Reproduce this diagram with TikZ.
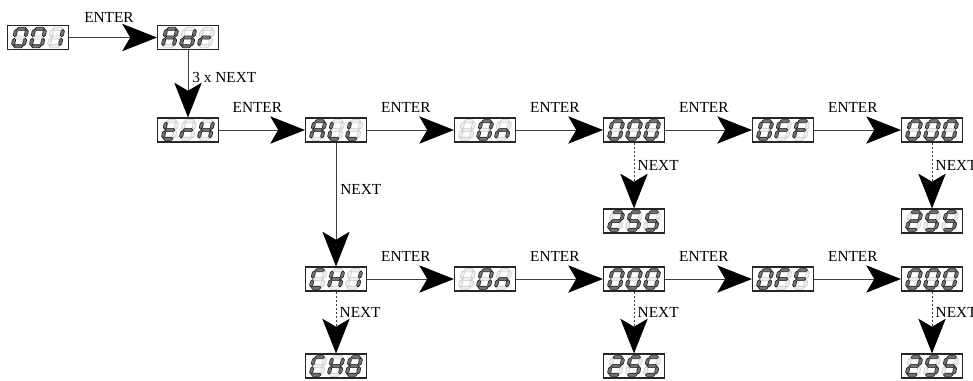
\documentclass[tikz,border=0pt]{standalone}
\usepackage{fontspec}
\setmainfont{Liberation Serif}
\usetikzlibrary{arrows.meta}
\tikzset{
  seg1/.style={draw=black!90, fill=black!55, line width=0.45pt, line join=round},
  seg0/.style={draw=black!22, fill=black!6, line width=0.45pt, line join=round},
  disp/.style={draw=black!85, line width=0.9pt, minimum width=45.75pt, minimum height=18pt, inner sep=0pt, fill=white},
  conn/.style={draw=black!75, line width=0.6pt, -{Stealth[length=26pt,width=20.5pt,inset=6pt,black]}},
  dotconn/.style={conn, dash pattern=on 1.5pt off 1.5pt},
  lbl/.style={font=\fontsize{11.5}{13}\selectfont, inner sep=0pt},
}
% segment patterns a b c d e f g
\def\dgZero{1111110}
\def\dgOne{0110000}
\def\dgTwo{1101101}
\def\dgFive{1011011}
\def\dgEight{1111111}
\def\dgA{1110111}
\def\dgd{0111101}
\def\dgr{0000101}
\def\dgt{0001111}
\def\dgH{0110111}
\def\dgL{0001110}
\def\dgn{0010101}
\def\dgC{1001110}
\def\dgF{1000111}
\def\dgBlank{0000000}
\newcommand\sghseg[4]{\path[#4] (#1,#3) -- (#1+1.6,#3-1.6) -- (#2-1.6,#3-1.6) -- (#2,#3) -- (#2-1.6,#3+1.6) -- (#1+1.6,#3+1.6) -- cycle;}
\newcommand\sgvseg[4]{\path[#4] (#1,#2) -- (#1+1.6,#2+1.6) -- (#1+1.6,#3-1.6) -- (#1,#3) -- (#1-1.6,#3-1.6) -- (#1-1.6,#2+1.6) -- cycle;}
\newcommand\sevdigit[7]{%
  \sghseg{-4.8}{4.8}{-8.8}{seg#1}%
  \sgvseg{5.5}{-8.1}{-0.7}{seg#2}%
  \sgvseg{5.5}{0.7}{8.1}{seg#3}%
  \sghseg{-4.8}{4.8}{8.8}{seg#4}%
  \sgvseg{-5.5}{0.7}{8.1}{seg#5}%
  \sgvseg{-5.5}{-8.1}{-0.7}{seg#6}%
  \sghseg{-4.8}{4.8}{0}{seg#7}}
\newcommand\onedigit[3]{%
  \begin{scope}[shift={(#1.center)}, shift={(#2,0)}, xslant=0.2]
    \expandafter\sevdigit#3
  \end{scope}}
\newcommand\display[5]{%
  \node[disp] (#1) at #2 {};
  \onedigit{#1}{-18}{#3}\onedigit{#1}{0}{#4}\onedigit{#1}{18}{#5}}
\begin{document}
\begin{tikzpicture}[x=0.75pt,y=-0.75pt]
\useasboundingbox (0,0) rectangle (973,380);
\fill[white] (0,0) rectangle (973,380);
% row 1
\display{d001}{(38,37.5)}{\dgZero}{\dgZero}{\dgOne}
\display{dAdr}{(188,37.5)}{\dgA}{\dgd}{\dgr}
% row 2
\display{dtrH}{(188,130)}{\dgt}{\dgr}{\dgH}
\display{dALL}{(336,130)}{\dgA}{\dgL}{\dgL}
\display{d0nA}{(485,130)}{\dgBlank}{\dgZero}{\dgn}
\display{d000A}{(634,130)}{\dgZero}{\dgZero}{\dgZero}
\display{d0FFA}{(783,130)}{\dgZero}{\dgF}{\dgF}
\display{d000rA}{(932,130)}{\dgZero}{\dgZero}{\dgZero}
\display{d255A}{(634,221)}{\dgTwo}{\dgFive}{\dgFive}
\display{d255rA}{(932,221)}{\dgTwo}{\dgFive}{\dgFive}
% row 3
\display{dCH1}{(336,279)}{\dgC}{\dgH}{\dgOne}
\display{d0nB}{(485,279)}{\dgBlank}{\dgZero}{\dgn}
\display{d000B}{(634,279)}{\dgZero}{\dgZero}{\dgZero}
\display{d0FFB}{(783,279)}{\dgZero}{\dgF}{\dgF}
\display{d000rB}{(932,279)}{\dgZero}{\dgZero}{\dgZero}
\display{dCH8}{(336,366)}{\dgC}{\dgH}{\dgEight}
\display{d255B}{(634,366)}{\dgTwo}{\dgFive}{\dgFive}
\display{d255rB}{(932,366)}{\dgTwo}{\dgFive}{\dgFive}
% connectors
\draw[conn] (d001) -- (dAdr) node[lbl, midway, yshift=15pt, xshift=-3pt] {ENTER};
\draw[conn] (dAdr) -- (dtrH) node[lbl, pos=0.41, anchor=west, xshift=3pt] {3 x NEXT};
\draw[conn] (dtrH) -- (dALL) node[lbl, midway, yshift=17pt, xshift=-3.5pt] {ENTER};
\draw[conn] (dALL) -- (d0nA) node[lbl, midway, yshift=17pt, xshift=-3.5pt] {ENTER};
\draw[conn] (d0nA) -- (d000A) node[lbl, midway, yshift=17pt, xshift=-3.5pt] {ENTER};
\draw[conn] (d000A) -- (d0FFA) node[lbl, midway, yshift=17pt, xshift=-3.5pt] {ENTER};
\draw[conn] (d0FFA) -- (d000rA) node[lbl, midway, yshift=17pt, xshift=-3.5pt] {ENTER};
\draw[conn] (dALL) -- (dCH1) node[lbl, pos=0.38, anchor=west, xshift=3pt] {NEXT};
\draw[dotconn] (d000A) -- (d255A) node[lbl, pos=0.34, anchor=west, xshift=2.5pt] {NEXT};
\draw[dotconn] (d000rA) -- (d255rA) node[lbl, pos=0.34, anchor=west, xshift=2.5pt] {NEXT};
\draw[conn] (dCH1) -- (d0nB) node[lbl, midway, yshift=17pt, xshift=-3.5pt] {ENTER};
\draw[conn] (d0nB) -- (d000B) node[lbl, midway, yshift=17pt, xshift=-3.5pt] {ENTER};
\draw[conn] (d000B) -- (d0FFB) node[lbl, midway, yshift=17pt, xshift=-3.5pt] {ENTER};
\draw[conn] (d0FFB) -- (d000rB) node[lbl, midway, yshift=17pt, xshift=-3.5pt] {ENTER};
\draw[dotconn] (dCH1) -- (dCH8) node[lbl, pos=0.34, anchor=west, xshift=2.5pt] {NEXT};
\draw[dotconn] (d000B) -- (d255B) node[lbl, pos=0.34, anchor=west, xshift=2.5pt] {NEXT};
\draw[dotconn] (d000rB) -- (d255rB) node[lbl, pos=0.34, anchor=west, xshift=2.5pt] {NEXT};
\end{tikzpicture}
\end{document}
